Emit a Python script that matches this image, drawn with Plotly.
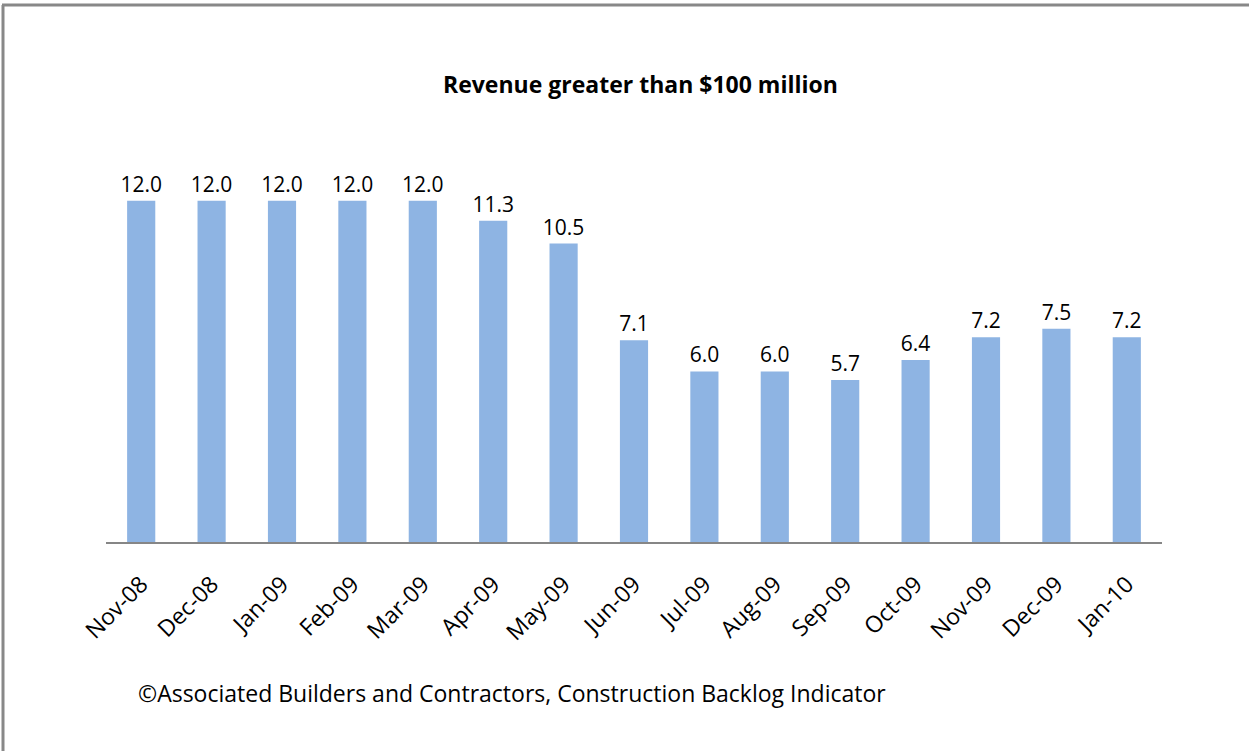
import plotly.graph_objects as go

months = ["Nov-08", "Dec-08", "Jan-09", "Feb-09", "Mar-09", "Apr-09", "May-09", "Jun-09",
          "Jul-09", "Aug-09", "Sep-09", "Oct-09", "Nov-09", "Dec-09", "Jan-10"]
backlog = [12.0, 12.0, 12.0, 12.0, 12.0, 11.3, 10.5, 7.1, 6.0, 6.0, 5.7, 6.4, 7.2, 7.5, 7.2]

title_text = "Revenue greater than $100 million"
source_text = "©Associated Builders and Contractors, Construction Backlog Indicator"

FONT = "Open Sans, sans-serif"

# plot area in pixels: left 106, right 1162, top 144, bottom 542
L, R, T, B = 106, 87, 144, 209
W, H = 1249, 751
pw, ph = W - L - R, H - T - B

def px_x(x):
    return (x - L) / pw

def px_y(y):
    return (H - B - y) / ph

fig = go.Figure(go.Bar(
    x=months, y=backlog,
    marker=dict(color="#8EB4E3", line=dict(width=0)),
    width=0.4,
    text=[f"{v:.1f}" for v in backlog],
    textposition="outside",
    constraintext="none",
    textfont=dict(family=FONT, size=21, color="black"),
    cliponaxis=False,
))

fig.update_layout(
    width=W, height=H,
    margin=dict(l=L, r=R, t=T, b=B),
    plot_bgcolor="white", paper_bgcolor="white",
    showlegend=False,
    font=dict(family=FONT, color="black"),
)
fig.update_xaxes(tickangle=-45, tickfont=dict(size=23), showline=True, linecolor="#868686",
                 linewidth=1.5, ticks="", showgrid=False, ticklabelstandoff=18)
fig.update_yaxes(range=[0, 14], visible=False, showgrid=False)

fig.add_annotation(text="<b>" + title_text + "</b>", x=px_x(640), y=px_y(84),
                   xref="paper", yref="paper", showarrow=False,
                   font=dict(size=23, family=FONT), xanchor="center", yanchor="middle")
fig.add_annotation(text=source_text, x=px_x(136), y=px_y(693),
                   xref="paper", yref="paper", showarrow=False,
                   font=dict(size=23, family=FONT), xanchor="left", yanchor="middle")

# grey frame around the chart (left and top edges visible)
fig.add_shape(type="line", xref="paper", yref="paper",
              x0=px_x(3), x1=px_x(3), y0=px_y(5), y1=px_y(760),
              line=dict(color="#888888", width=3))
fig.add_shape(type="line", xref="paper", yref="paper",
              x0=px_x(2), x1=px_x(1260), y0=px_y(5), y1=px_y(5),
              line=dict(color="#888888", width=3))

fig.write_html("out.html", config={"displayModeBar": False},
               post_script="document.body.style.margin='0';")
